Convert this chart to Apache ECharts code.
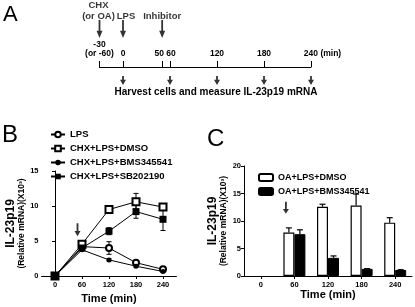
<!DOCTYPE html>
<html><head><meta charset="utf-8">
<script src="https://cdn.jsdelivr.net/npm/echarts@6/dist/echarts.min.js"></script>
<style>html,body{margin:0;padding:0;background:#fff}#c{width:415px;height:307px}</style>
</head><body><div id="c"></div>
<script>
// ---------- Panel A: timeline ----------
const timelineTicks = [-30, 0, 50, 60, 120, 180, 240];
const treatTimes = [-30, 0, 50];
const treatLabels = ['CHX\n(or OA)', 'LPS', 'Inhibitor'];
const harvestTimes = [0, 60, 120, 180, 240];
const harvestLabel = 'Harvest cells and measure IL-23p19 mRNA';

// ---------- Panel B: line chart ----------
const timesB = [0, 60, 120, 180, 240];
const namesB = ['LPS', 'CHX+LPS+DMSO', 'CHX+LPS+BMS345541', 'CHX+LPS+SB202190'];
const lpsB = [0, 4.2, 4.0, 1.9, 0.95];
const lpsErrB = [0, 0.2, 0.9, 0.2, 0.1];
const dmsoB = [0, 4.55, 9.5, 10.6, 9.85];
const dmsoErrB = [0, 0.2, 0.3, 1.2, 0.3];
const bmsB = [0, 3.75, 2.3, 1.4, 0.65];
const bmsErrB = [0, 0.1, 0.15, 0.15, 0.1];
const sbB = [0, 4.0, 6.4, 9.2, 8.1];
const sbErrB = [0, 0.2, 0.5, 0.95, 1.6];
const arrowB = [[50, 6.6]];

// ---------- Panel C: bar chart ----------
const catsC = ['0', '60', '120', '180', '240'];
const namesC = ['OA+LPS+DMSO', 'OA+LPS+BMS345541'];
const dmsoC = [null, 7.9, 12.6, 12.8, 9.7];
const dmsoErrC = [null, 0.85, 0.45, 2.1, 0.9];
const bmsC = [null, 7.6, 3.3, 1.3, 1.1];
const bmsErrC = [null, 0.8, 0.35, 0.05, 0.05];
const arrowC = [['60', 12.4]];

const FF = "'Liberation Sans', Arial, Helvetica, sans-serif";
const ARROW_LONG = 'path://M3.5,0 L6.5,0 L6.5,12 L10,12 L5,20 L0,12 L3.5,12 Z';
const ARROW_SHORT = 'path://M3.5,0 L6.5,0 L6.5,5 L10,5 L5,12 L0,5 L3.5,5 Z';
const BLK = '#000';

function errBarsB(params, api) {
  const x = api.value(0), v = api.value(1), e = api.value(2);
  if (!e) return;
  const t = api.coord([x, v + e]), b = api.coord([x, v - e]);
  const w = 2.5, st = {stroke: BLK, lineWidth: 1};
  return {type: 'group', children: [
    {type: 'line', shape: {x1: t[0], y1: t[1], x2: b[0], y2: b[1]}, style: st},
    {type: 'line', shape: {x1: t[0] - w, y1: t[1], x2: t[0] + w, y2: t[1]}, style: st},
    {type: 'line', shape: {x1: b[0] - w, y1: b[1], x2: b[0] + w, y2: b[1]}, style: st}
  ]};
}
function errBarsC(off) {
  return function (params, api) {
    const x = api.value(0), v = api.value(1), e = api.value(2);
    const t = api.coord([x, v + e]), b = api.coord([x, v]);
    const w = 3, st = {stroke: BLK, lineWidth: 1.2};
    return {type: 'group', children: [
      {type: 'line', shape: {x1: t[0] + off, y1: t[1], x2: b[0] + off, y2: b[1]}, style: st},
      {type: 'line', shape: {x1: t[0] + off - w, y1: t[1], x2: t[0] + off + w, y2: t[1]}, style: st}
    ]};
  };
}
function pairs(xs, ys) { return xs.map((x, i) => [x, ys[i]]); }
function triples(xs, ys, es) { return xs.map((x, i) => [x, ys[i], es[i]]); }
function triplesC(ys, es) {
  const out = [];
  ys.forEach((y, i) => { if (y != null) out.push([i, y, es[i]]); });
  return out;
}

const lineStyleB = {color: BLK, width: 1};
const tickLbl = {fontFamily: FF, fontWeight: 'bold', fontSize: 7.5, color: BLK};
const axisLineBlk = {show: true, lineStyle: {color: BLK, width: 1}};
const treatLabelOffsets = [[-1, 0], [3, 0], [0, 0]];

const option = {
  animation: false,
  backgroundColor: '#fff',
  textStyle: {fontFamily: FF},
  graphic: [
    {type: 'text', left: 3, top: 4, style: {text: 'A', font: '22px ' + FF, fill: BLK}},
    {type: 'text', left: 2, top: 123, style: {text: 'B', font: '24px ' + FF, fill: BLK}},
    {type: 'text', left: 207, top: 127, style: {text: 'C', font: '24px ' + FF, fill: BLK}},
    {type: 'text', x: 216, y: 92, style: {text: harvestLabel, font: 'bold 10px ' + FF, fill: BLK, align: 'center', verticalAlign: 'middle'}}
  ],
  legend: [
    {data: namesB, orient: 'vertical', left: 45, top: 124, itemWidth: 14, itemHeight: 7, itemGap: 3,
     textStyle: {fontFamily: FF, fontWeight: 'bold', fontSize: 9.5, color: BLK, lineHeight: 11}},
    {data: namesC, orient: 'vertical', left: 253, top: 167, itemWidth: 14, itemHeight: 7, itemGap: 3,
     textStyle: {fontFamily: FF, fontWeight: 'bold', fontSize: 9, color: BLK, lineHeight: 11}}
  ],
  grid: [
    {left: 99.5, width: 211.5, top: 0, height: 67},
    {left: 41.5, width: 135, top: 171, height: 105},
    {left: 244, width: 168, top: 166, height: 110}
  ],
  xAxis: [
    {gridIndex: 0, type: 'value', min: -30, max: 240,
     axisLine: {show: true, onZero: false, lineStyle: {color: BLK, width: 1}},
     axisTick: {show: true, inside: true, length: 6, customValues: timelineTicks, lineStyle: {color: BLK}},
     axisLabel: {show: true, inside: true, margin: 9, customValues: timelineTicks,
       fontFamily: FF, fontWeight: 'bold', fontSize: 8.5, color: BLK, lineHeight: 9,
       formatter: function (v) {
         if (v === -30) return '-30\n(or -60)';
         if (v === 50) return '{l|50}';
         if (v === 60) return '{r|60}';
         if (v === 240) return '{m|240 (min)}';
         return String(v);
       },
       rich: {
         l: {fontFamily: FF, fontWeight: 'bold', fontSize: 8.5, color: BLK, padding: [0, 6, 0, 0]},
         r: {fontFamily: FF, fontWeight: 'bold', fontSize: 8.5, color: BLK, padding: [0, 0, 0, 2]},
         m: {fontFamily: FF, fontWeight: 'bold', fontSize: 8.5, color: BLK, padding: [0, 0, 0, 23]}
       }},
     splitLine: {show: false}},
    {gridIndex: 1, type: 'value', min: -30, max: 270,
     axisLine: axisLineBlk,
     axisTick: {show: true, length: 3, customValues: timesB, lineStyle: {color: BLK}},
     axisLabel: Object.assign({margin: 5, customValues: timesB}, tickLbl),
     splitLine: {show: false},
     name: 'Time (min)', nameLocation: 'middle', nameGap: 17,
     nameTextStyle: {fontFamily: FF, fontWeight: 'bold', fontSize: 11, color: BLK}},
    {gridIndex: 2, type: 'category', data: catsC,
     axisLine: axisLineBlk,
     axisTick: {show: true, length: 3, alignWithLabel: true, lineStyle: {color: BLK}},
     axisLabel: Object.assign({margin: 5}, tickLbl),
     name: 'Time (min)', nameLocation: 'middle', nameGap: 11,
     nameTextStyle: {fontFamily: FF, fontWeight: 'bold', fontSize: 11, color: BLK}}
  ],
  yAxis: [
    {gridIndex: 0, type: 'value', min: 0, max: 67, show: false, splitLine: {show: false}},
    {gridIndex: 1, type: 'value', min: 0, max: 15, interval: 5,
     axisLine: axisLineBlk, axisTick: {show: true, length: 3, lineStyle: {color: BLK}},
     axisLabel: Object.assign({margin: 3}, tickLbl), splitLine: {show: false},
     name: '{a|IL-23p19}\n{b|(Relative mRNA)(X10³)}', nameLocation: 'middle', nameRotate: 90, nameGap: 15,
     nameTextStyle: {rich: {
       a: {fontFamily: FF, fontWeight: 'bold', fontSize: 12, color: BLK, lineHeight: 12},
       b: {fontFamily: FF, fontWeight: 'bold', fontSize: 8.5, color: BLK, lineHeight: 10}}}},
    {gridIndex: 2, type: 'value', min: 0, max: 20, interval: 5,
     axisLine: axisLineBlk, axisTick: {show: true, length: 3, lineStyle: {color: BLK}},
     axisLabel: Object.assign({margin: 3}, tickLbl), splitLine: {show: false},
     name: '{a|IL-23p19}\n{b|(Relative mRNA)(X10³)}', nameLocation: 'middle', nameRotate: 90, nameGap: 15,
     nameTextStyle: {rich: {
       a: {fontFamily: FF, fontWeight: 'bold', fontSize: 12, color: BLK, lineHeight: 12},
       b: {fontFamily: FF, fontWeight: 'bold', fontSize: 8.5, color: BLK, lineHeight: 10}}}}
  ],
  series: [
    // Panel A
    {type: 'scatter', xAxisIndex: 0, yAxisIndex: 0, clip: false, symbol: ARROW_LONG, symbolSize: [6, 18],
     itemStyle: {color: BLK},
     label: {show: true, position: 'top', distance: -2, formatter: '{b}', fontFamily: FF, fontWeight: 'bold',
       fontSize: 9.5, lineHeight: 11, color: BLK},
     data: treatTimes.map((t, i) => ({name: treatLabels[i], value: [t, 38], label: {offset: treatLabelOffsets[i]}}))},
    {type: 'scatter', xAxisIndex: 0, yAxisIndex: 0, clip: false, symbol: ARROW_SHORT, symbolSize: [6, 9],
     itemStyle: {color: BLK}, data: harvestTimes.map(t => [t, -13.5])},
    // Panel B error bars
    {type: 'custom', xAxisIndex: 1, yAxisIndex: 1, renderItem: errBarsB, z: 1, data: triples(timesB, lpsB, lpsErrB)},
    {type: 'custom', xAxisIndex: 1, yAxisIndex: 1, renderItem: errBarsB, z: 1, data: triples(timesB, dmsoB, dmsoErrB)},
    {type: 'custom', xAxisIndex: 1, yAxisIndex: 1, renderItem: errBarsB, z: 1, data: triples(timesB, bmsB, bmsErrB)},
    {type: 'custom', xAxisIndex: 1, yAxisIndex: 1, renderItem: errBarsB, z: 1, data: triples(timesB, sbB, sbErrB)},
    // Panel B lines
    {type: 'line', name: namesB[0], xAxisIndex: 1, yAxisIndex: 1, z: 3, symbol: 'emptyCircle', symbolSize: 6,
     lineStyle: lineStyleB, itemStyle: {color: BLK, borderWidth: 1}, data: pairs(timesB, lpsB)},
    {type: 'line', name: namesB[1], xAxisIndex: 1, yAxisIndex: 1, z: 3, symbol: 'emptyRect', symbolSize: 7,
     lineStyle: lineStyleB, itemStyle: {color: BLK, borderWidth: 1}, data: pairs(timesB, dmsoB)},
    {type: 'line', name: namesB[2], xAxisIndex: 1, yAxisIndex: 1, z: 3, symbol: 'circle', symbolSize: 5,
     lineStyle: lineStyleB, itemStyle: {color: BLK}, data: pairs(timesB, bmsB)},
    {type: 'line', name: namesB[3], xAxisIndex: 1, yAxisIndex: 1, z: 3, symbol: 'rect', symbolSize: 7,
     lineStyle: lineStyleB, itemStyle: {color: BLK}, data: pairs(timesB, sbB)},
    {type: 'scatter', xAxisIndex: 1, yAxisIndex: 1, symbol: ARROW_LONG, symbolSize: [6, 13],
     itemStyle: {color: BLK}, data: arrowB},
    // Panel C bars
    {type: 'bar', name: namesC[0], xAxisIndex: 2, yAxisIndex: 2, barWidth: 11, barGap: '0%',
     itemStyle: {color: '#fff', borderColor: BLK, borderWidth: 1.2}, data: dmsoC},
    {type: 'bar', name: namesC[1], xAxisIndex: 2, yAxisIndex: 2, barWidth: 11, barGap: '0%',
     itemStyle: {color: BLK, borderColor: BLK, borderWidth: 1}, data: bmsC},
    {type: 'custom', xAxisIndex: 2, yAxisIndex: 2, renderItem: errBarsC(-5.5), z: 1, data: triplesC(dmsoC, dmsoErrC)},
    {type: 'custom', xAxisIndex: 2, yAxisIndex: 2, renderItem: errBarsC(5.5), z: 1, data: triplesC(bmsC, bmsErrC)},
    {type: 'scatter', xAxisIndex: 2, yAxisIndex: 2, symbol: ARROW_LONG, symbolSize: [6, 12], symbolOffset: [-8.5, 0],
     itemStyle: {color: BLK}, data: arrowC}
  ]
};
const chart = echarts.init(document.getElementById('c'), null, {renderer: 'canvas'});
chart.setOption(option);
</script></body></html>
